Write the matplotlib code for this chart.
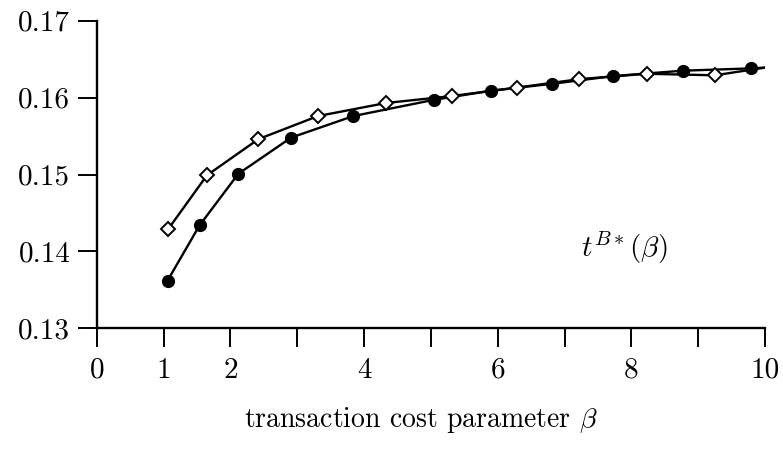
import matplotlib
matplotlib.use("Agg")
import matplotlib.pyplot as plt

plt.rcParams['font.family'] = 'serif'
plt.rcParams['font.serif'] = ['cmr10', 'DejaVu Serif']
plt.rcParams['mathtext.fontset'] = 'cm'
plt.rcParams['axes.formatter.use_mathtext'] = True

# data
beta_filled = [1.06, 1.54, 2.12, 2.91, 3.84, 5.04, 5.90, 6.82, 7.73, 8.77, 9.79]
t_filled = [0.1362, 0.1434, 0.1501, 0.1548, 0.1576, 0.1597, 0.1609, 0.1618, 0.1628, 0.1635, 0.1638]
beta_open = [1.07, 1.65, 2.42, 3.31, 4.33, 5.31, 6.29, 7.22, 8.23, 9.25]
t_open = [0.1429, 0.1499, 0.1546, 0.1576, 0.1593, 0.1602, 0.1613, 0.1624, 0.1631, 0.1629]
beta_end = 10.0
t_end = 0.1639

x_ticks = [0, 1, 2, 3, 4, 5, 6, 7, 8, 9, 10]
x_ticklabels = ['0', '1', '2', '', '4', '', '6', '', '8', '', '10']
y_ticks = [0.13, 0.14, 0.15, 0.16, 0.17]
y_ticklabels = ['0.13', '0.14', '0.15', '0.16', '0.17']

fig = plt.figure(figsize=(7.83, 4.5), dpi=100)
ax = fig.add_axes([0.1235, 0.2704, 0.977 - 0.1235, 0.954 - 0.2704])

ax.plot(beta_filled + [beta_end], t_filled + [t_end], color='black', lw=1.7, zorder=2)
ax.plot(beta_open + [beta_end], t_open + [t_end], color='black', lw=1.7, zorder=2)
ax.plot(beta_filled, t_filled, linestyle='none', marker='o', ms=8.5,
        mfc='black', mec='black', zorder=3)
ax.plot(beta_open, t_open, linestyle='none', marker='D', ms=7.5,
        mfc='white', mec='black', mew=1.4, zorder=3)

ax.set_xlim(0, 10)
ax.set_ylim(0.13, 0.17)
ax.set_xticks(x_ticks)
ax.set_xticklabels(x_ticklabels)
ax.set_yticks(y_ticks)
ax.set_yticklabels(y_ticklabels)
ax.tick_params(axis='both', direction='out', length=14, width=1.4, labelsize=21)
ax.tick_params(axis='y', pad=5)
ax.tick_params(axis='x', pad=7)

for s in ['top', 'right']:
    ax.spines[s].set_visible(False)
for s in ['left', 'bottom']:
    ax.spines[s].set_linewidth(1.7)

ax.text(7.9, 0.1405, r'$t^{B*}(\beta)$', fontsize=21, ha='center', va='center')
fig.text(0.538, 0.066, r'transaction cost parameter $\beta$', fontsize=20,
         ha='center', va='center')

fig.savefig('out.png', dpi=100)
